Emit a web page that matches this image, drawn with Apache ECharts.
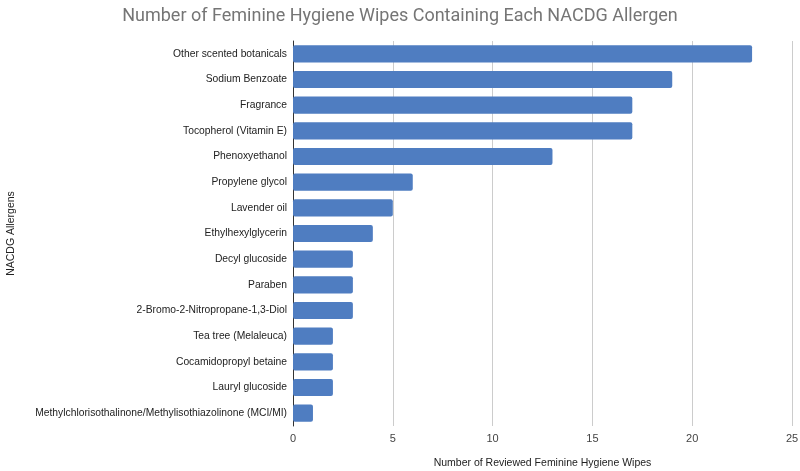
<!DOCTYPE html>
<html>
<head>
<meta charset="utf-8">
<script src="https://cdn.jsdelivr.net/npm/echarts@6/dist/echarts.min.js"></script>
<style>html,body{margin:0;padding:0;background:#fff}#c{width:800px;height:471px}</style>
</head>
<body>
<div id="c"></div>
<script>
const categories = [
  "Other scented botanicals",
  "Sodium Benzoate",
  "Fragrance",
  "Tocopherol (Vitamin E)",
  "Phenoxyethanol",
  "Propylene glycol",
  "Lavender oil",
  "Ethylhexylglycerin",
  "Decyl glucoside",
  "Paraben",
  "2-Bromo-2-Nitropropane-1,3-Diol",
  "Tea tree (Melaleuca)",
  "Cocamidopropyl betaine",
  "Lauryl glucoside",
  "Methylchlorisothalinone/Methylisothiazolinone (MCI/MI)"
];
const values = [23, 19, 17, 17, 13, 6, 5, 4, 3, 3, 3, 2, 2, 2, 1];
const xTicks = [0, 5, 10, 15, 20, 25];

const chart = echarts.init(document.getElementById('c'));
chart.setOption({
  animation: false,
  title: {
    text: 'Number of Feminine Hygiene Wipes Containing Each NACDG Allergen',
    left: 'center', top: 2,
    textStyle: { color: '#757575', fontSize: 18, fontWeight: 'normal', fontFamily: 'Roboto, Arial, sans-serif' }
  },
  grid: { left: 293, right: 8, top: 41, bottom: 45, containLabel: false, outerBoundsMode: 'none' },
  xAxis: {
    type: 'value', min: xTicks[0], max: xTicks[xTicks.length - 1], interval: 5,
    name: 'Number of Reviewed Feminine Hygiene Wipes',
    nameLocation: 'middle', nameGap: 32,
    nameTextStyle: { color: '#222', fontSize: 10.5, fontFamily: 'Arial, sans-serif' },
    axisLine: { show: false }, axisTick: { show: false },
    axisLabel: { color: '#444', fontSize: 11, margin: 7, fontFamily: 'Arial, sans-serif' },
    splitLine: { lineStyle: { color: '#cccccc', width: 1 } }
  },
  yAxis: {
    type: 'category', data: categories, inverse: true,
    name: 'NACDG Allergens', nameLocation: 'middle', nameGap: 276, nameRotate: 90,
    nameTextStyle: { color: '#222', fontSize: 10.5, fontFamily: 'Arial, sans-serif' },
    axisLine: { show: true, lineStyle: { color: '#333', width: 1 } },
    axisTick: { show: false },
    axisLabel: { color: '#222', fontSize: 10.3, margin: 6, fontFamily: 'Arial, sans-serif' }
  },
  series: [{
    type: 'bar', data: values, barCategoryGap: '33%',
    itemStyle: { color: '#4f7dc1', borderRadius: 2 }
  }]
});
</script>
</body>
</html>
